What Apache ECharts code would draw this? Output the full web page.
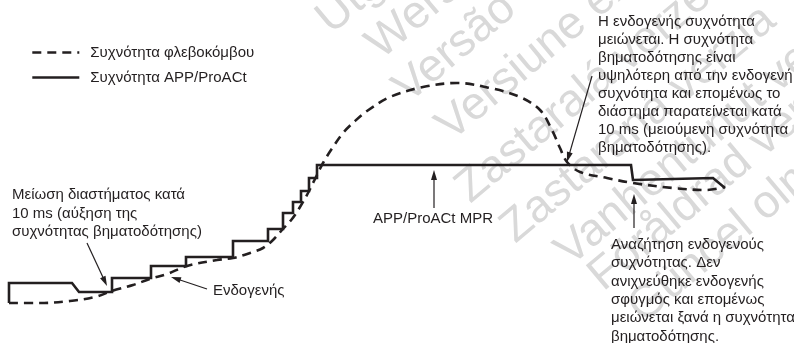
<!DOCTYPE html>
<html><head><meta charset="utf-8">
<script src="https://cdn.jsdelivr.net/npm/echarts@6/dist/echarts.min.js"></script>
<style>html,body{margin:0;padding:0;background:#fff}#c{width:794px;height:343px}</style>
</head><body><div id="c"></div>
<script>
// Series names (legend)
const seriesNames = ['Συχνότητα φλεβοκόμβου', 'Συχνότητα APP/ProACt'];

// Intrinsic (sinus) rate – dashed curve. time units / rate units
const sinusTime = [9,40,70,95,112,133,150,167,187,217,233,250,263,273,282,292,300,308,315,323,333,343,355,367,390,423,457,490,520,540,552,560,567,580,607,633,673,707,725];
const sinusRate = [40,40,42,46,52,58,64,69,77,83,85,90,95,103,113,124,136,150,164,180,196,210,222,232,246,256,260,255,246,233,213,195,181,171,165,160,155,153,156];

// APP/ProACt paced rate – solid staircase
const pacedTime = [9,9,72,79,112,112,151,151,186,186,233,233,268,268,283,283,293,293,301,301,309,309,317,317,631,633,713,725];
const pacedRate = [40,60,60,51,51,65,65,77,77,86,86,102,102,114,114,130,130,141,141,152,152,165,165,178,178,163,165,155];

// Annotation texts
const noteDecrease = ['Μείωση διαστήματος κατά', '10 ms (αύξηση της', 'συχνότητας βηματοδότησης)'];
const noteIntrinsic = ['Ενδογενής'];
const noteMPR = ['APP/ProACt MPR'];
const noteDrop = ['Η ενδογενής συχνότητα', 'μειώνεται. Η συχνότητα', 'βηματοδότησης είναι', 'υψηλότερη από την ενδογενή', 'συχνότητα και επομένως το', 'διάστημα παρατείνεται κατά', '10 ms (μειούμενη συχνότητα', 'βηματοδότησης).'];
const noteSearch = ['Αναζήτηση ενδογενούς', 'συχνότητας. Δεν', 'ανιχνεύθηκε ενδογενής', 'σφυγμός και επομένως', 'μειώνεται ξανά η συχνότητα', 'βηματοδότησης.'];
const watermarks = ['Utgått version', 'Wersja nieaktualna', 'Versão obsoleta', 'Versiune expirată', 'Zastaralá verze', 'Zastaraná verzia', 'Vanhentunut versio', 'Föråldrad version', 'Güncel olmayan sürüm'];

const INK = '#231f20';
const FONT = '"Liberation Sans", Arial, Helvetica, sans-serif';

const chart = echarts.init(document.getElementById('c'), null, {renderer: 'canvas'});

function zip(a, b) { return a.map((v, i) => [v, b[i]]); }

// helpers for annotation graphics (pixel positions)
function textBlock(lines, x, yFirst, lh, align) {
  return lines.map((t, i) => ({
    type: 'text', z: 20, x: x, y: yFirst + i * lh,
    style: {text: t, fill: INK, font: '15px ' + FONT, align: align || 'left', verticalAlign: 'middle'}
  }));
}
function arrow(x1, y1, x2, y2) {
  const dx = x2 - x1, dy = y2 - y1, L = Math.hypot(dx, dy);
  const ux = dx / L, uy = dy / L, head = 10, hw = 3;
  const bx = x2 - ux * head, by = y2 - uy * head;
  return [
    {type: 'line', z: 20, shape: {x1: x1, y1: y1, x2: bx + ux * 2, y2: by + uy * 2}, style: {stroke: INK, lineWidth: 1.2}},
    {type: 'polygon', z: 20, shape: {points: [[x2, y2], [bx - uy * hw, by + ux * hw], [bx + uy * hw, by - ux * hw]]}, style: {fill: INK}}
  ];
}

const wmPos = [[338,43],[388,68],[415,112],[458,150],[477,212],[522,252],[577,275],[610,300],[650,332]];
const graphics = [];
watermarks.forEach((t, i) => {
  graphics.push({type: 'text', z: 0, x: wmPos[i][0], y: wmPos[i][1], rotation: 40 * Math.PI / 180,
    style: {text: t, fill: '#d9d9d9', font: '46px ' + FONT, align: 'left', verticalAlign: 'bottom'}});
});
graphics.push(...textBlock(noteDecrease, 12, 195, 18.5));
graphics.push(...textBlock(noteIntrinsic, 213, 291, 18.5));
graphics.push(...textBlock(noteMPR, 433, 219, 18.5, 'center'));
graphics.push(...textBlock(noteDrop, 598, 22, 18));
graphics.push(...textBlock(noteSearch, 611, 245, 18.3));
graphics.push(...arrow(87, 243, 107, 286));
graphics.push(...arrow(207, 289, 171, 277));
graphics.push(...arrow(434, 208, 434, 170));
graphics.push(...arrow(592, 76, 567, 162));
graphics.push(...arrow(634, 228, 634, 194));

chart.setOption({
  animation: false,
  backgroundColor: '#fff',
  grid: {left: 0, right: 0, top: 0, bottom: 0},
  xAxis: {type: 'value', min: 0, max: 794, show: false},
  yAxis: {type: 'value', min: 0, max: 343, show: false},
  legend: {
    orient: 'vertical', left: 26, top: 40, itemWidth: 47, itemHeight: 14, itemGap: 10,
    itemStyle: {opacity: 0},
    lineStyle: {width: 2.6},
    textStyle: {color: INK, fontSize: 15, fontFamily: FONT, padding: [0, 0, 0, 6]},
    data: seriesNames, selectedMode: false
  },
  series: [
    {name: seriesNames[0], type: 'line', data: zip(sinusTime, sinusRate), symbol: 'none', smooth: 0.35,
     lineStyle: {color: INK, width: 2.6, type: [9, 6], cap: 'butt'}, itemStyle: {color: INK}, silent: true, z: 3},
    {name: seriesNames[1], type: 'line', data: zip(pacedTime, pacedRate), symbol: 'none',
     lineStyle: {color: INK, width: 2.6, join: 'miter', cap: 'butt'}, itemStyle: {color: INK}, silent: true, z: 4}
  ],
  graphic: graphics
});
</script></body></html>
